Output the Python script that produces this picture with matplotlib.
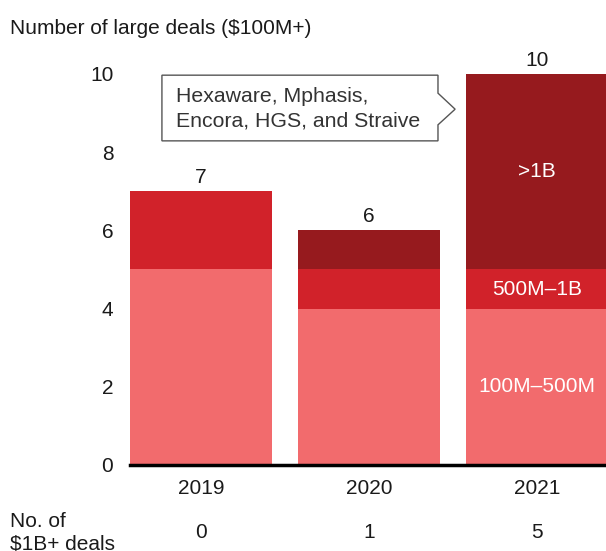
import matplotlib
matplotlib.use("Agg")
import matplotlib.pyplot as plt
from matplotlib.patches import Polygon
import numpy as np

plt.rcParams['font.family'] = ['Liberation Sans', 'DejaVu Sans']

years = ["2019", "2020", "2021"]
seg_names = ["100M–500M", "500M–1B", ">1B"]
small = [5, 4, 4]
mid = [2, 1, 1]
large = [0, 1, 5]
totals = [7, 6, 10]
big_deals = [0, 1, 5]
callout_text = "Hexaware, Mphasis,\nEncora, HGS, and Straive"
yticks = [0, 2, 4, 6, 8, 10]

colors = ["#F26B6D", "#D1222A", "#961A1E"]
txt = "#1a1a1a"
fs = 15

W, H = 606, 551
fig = plt.figure(figsize=(W / 100, H / 100), dpi=100)
ax = fig.add_axes([130 / W, 86 / H, (W - 130) / W, (465 - 74) / H])

x = np.arange(len(years))
bw = 0.845
series = [small, mid, large]
bottom = np.zeros(len(years))
for vals, c in zip(series, colors):
    ax.bar(x, vals, bw, bottom=bottom, color=c, linewidth=0, zorder=2)
    bottom += np.array(vals)

ax.set_xlim(-0.423, 2.41)
ax.set_ylim(0, 10)
ax.set_yticks(yticks)
ax.set_yticklabels([str(t) for t in yticks], fontsize=fs, color=txt)
ax.tick_params(axis='y', length=0, pad=12)
ax.set_xticks(x)
ax.set_xticklabels(years, fontsize=fs, color=txt)
ax.tick_params(axis='x', length=0, pad=10)
for s in ["top", "right", "left"]:
    ax.spines[s].set_visible(False)
ax.spines["bottom"].set_linewidth(2.5)
ax.spines["bottom"].set_color("black")
ax.spines["bottom"].set_zorder(5)

# totals
for xi, t in zip(x, totals):
    ax.text(xi, t + 0.1, str(t), ha='center', va='bottom', fontsize=fs,
            color=txt, clip_on=False)

# segment labels in last bar
last = len(years) - 1
cum = 0
for name, vals in zip(seg_names, series):
    v = vals[last]
    ax.text(last, cum + v / 2, name, ha='center', va='center', fontsize=fs,
            color='white', zorder=4)
    cum += v

# callout
poly = Polygon([(-0.233, 9.97), (1.41, 9.97), (1.41, 9.51), (1.512, 9.10),
                (1.41, 8.70), (1.41, 8.29), (-0.233, 8.29)], closed=True,
               facecolor='white', edgecolor='#555555', linewidth=1,
               clip_on=False, zorder=6)
ax.add_patch(poly)
ax.text(-0.15, 9.12, callout_text, ha='left', va='center', fontsize=15.3,
        color='#333333', linespacing=1.35, zorder=7)

# header
fig.text(10 / W, 1 - 28 / H, "Number of large deals ($100M+)", ha='left',
         va='center', fontsize=fs, color=txt)

# bottom row
fig.text(10 / W, 1 - 533 / H, "No. of\n$1B+ deals", ha='left', va='center',
         fontsize=fs, color=txt, linespacing=1.25)
for xi, v in zip(x, big_deals):
    ax.annotate(str(v), xy=(xi, 0), xycoords='data', xytext=(0, -(533 - 465) * 0.72),
                textcoords='offset points', ha='center', va='center',
                fontsize=fs, color=txt, annotation_clip=False)

fig.savefig("out.png", dpi=100)
